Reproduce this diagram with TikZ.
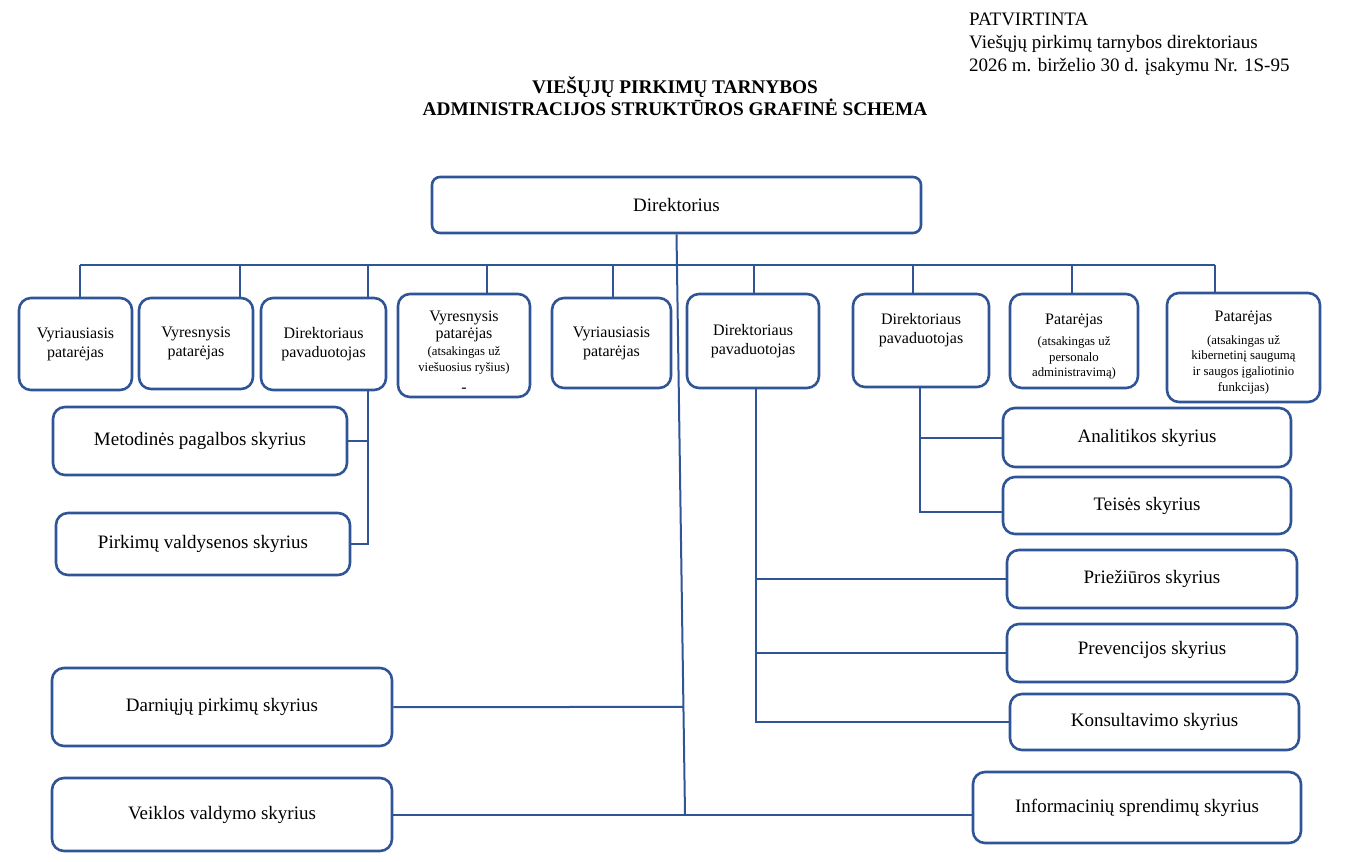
\documentclass[tikz,border=0pt]{standalone}
\usepackage{fontspec}
\setmainfont{Liberation Serif}
\usetikzlibrary{calc}

\definecolor{schemablau}{RGB}{47,85,151}
\newcommand{\gross}{\fontsize{16}{19}\selectfont}
\newcommand{\klein}{\fontsize{12.8}{15}\selectfont}
\newcommand{\haupt}{\fontsize{19}{22.5}\selectfont}

\tikzset{
  kasten/.style={draw=schemablau, line width=2.6pt, rounded corners=12pt, inner sep=2pt},
  posten/.style={kasten, align=center, font=\gross},
  oben/.style={align=center, font=\gross},
  skyrius/.style={kasten, font=\haupt},
  linija/.style={draw=schemablau, line width=2pt},
}

\begin{document}
\begin{tikzpicture}[x=1pt,y=-1pt]
    \useasboundingbox (0,0) rectangle (1347,862);
    % Header
    \node[anchor=north west, align=left, inner sep=0pt, font=\fontsize{19}{22.8}\selectfont] (patv) at (969,13)
        {PATVIRTINTA\\Viešųjų pirkimų tarnybos direktoriaus\\2026 m. birželio 30 d. įsakymu Nr. 1S-95};
    \node[align=center, inner sep=0pt, font=\fontsize{19.3}{22}\selectfont\bfseries] (titel) at (675,96.5)
        {VIEŠŲJŲ PIRKIMŲ TARNYBOS\\ADMINISTRACIJOS STRUKTŪROS GRAFINĖ SCHEMA};
    % Director
    \node[kasten, font=\haupt, rounded corners=8pt, minimum width=489, minimum height=56] (dir) at (676.5,205) {Direktorius};
    % Row of advisers and deputies
    \node[posten, minimum width=113, minimum height=92] (p1) at (75.5,344) {Vyriausiasis\\patarėjas};
    \node[posten, minimum width=114, minimum height=91] (p2) at (196,343.5) {Vyresnysis\\patarėjas};
    \node[posten, minimum width=125, minimum height=92] (pav1) at (323.5,344) {Direktoriaus\\pavaduotojas};
    \node[kasten, minimum width=132, minimum height=103,
          label={[oben, below=15pt]north:{Vyresnysis\\[-2pt]patarėjas\\[-2pt]\klein (atsakingas už\\[-3pt]\klein viešuosius ryšius)\\[2pt]-}}] (p3) at (464,345.5) {};
    \node[posten, minimum width=119, minimum height=90] (p4) at (611.5,343) {Vyriausiasis\\patarėjas};
    \node[posten, minimum width=132, minimum height=94] (pav2) at (753,341) {Direktoriaus\\pavaduotojas};
    \node[kasten, minimum width=136, minimum height=93,
          label={[oben, below=17pt]north:{Direktoriaus\\pavaduotojas}}] (pav3) at (921,340.5) {};
    \node[kasten, minimum width=128, minimum height=94,
          label={[oben, below=18pt]north:{Patarėjas\\[2pt]\klein (atsakingas už\\[-3pt]\klein personalo\\[-4pt]\klein administravimą)}}] (pat1) at (1074,341) {};
    \node[kasten, minimum width=153, minimum height=109,
          label={[oben, below=16pt]north:{Patarėjas\\[4pt]\klein (atsakingas už\\[-4pt]\klein kibernetinį saugumą\\[-3pt]\klein ir saugos įgaliotinio\\[-3pt]\klein funkcijas)}}] (pat2) at (1243.5,347.5) {};
    % Divisions
    \node[skyrius, minimum width=294, minimum height=68] (met) at (200,441) {Metodinės pagalbos skyrius};
    \node[skyrius, minimum width=294, minimum height=62] (pvs) at (203,544) {Pirkimų valdysenos skyrius};
    \node[skyrius, minimum width=340, minimum height=78] (dar) at (222,707) {Darniųjų pirkimų skyrius};
    \node[skyrius, minimum width=340, minimum height=73] (veik) at (222,814.5) {Veiklos valdymo skyrius};
    \node[skyrius, minimum width=288, minimum height=59] (anal) at (1147,437.5) {Analitikos skyrius};
    \node[skyrius, minimum width=288, minimum height=57] (teis) at (1147,505.5) {Teisės skyrius};
    \node[skyrius, minimum width=290, minimum height=58] (pri) at (1152,579) {Priežiūros skyrius};
    \node[skyrius, minimum width=290, minimum height=58, text depth=11pt] (prev) at (1152,653) {Prevencijos skyrius};
    \node[skyrius, minimum width=289, minimum height=56] (kons) at (1154.5,722) {Konsultavimo skyrius};
    \node[skyrius, minimum width=328, minimum height=71] (info) at (1137,807.5) {Informacinių sprendimų skyrius};

    % Bus and drops
    \coordinate (busL) at (80,265);
    \coordinate (busR) at (1215,265);
    \coordinate (stamm) at (685,814.5);
    \draw[linija] (busL) -- (busR);
    \draw[linija] (dir.south) -- (stamm);
    \foreach \n/\dx in {p1/4.5, p2/44, pav1/44.5, p3/23, p4/1.5, pav2/1, pav3/-8, pat1/-2, pat2/-28.5}
        \draw[linija] ([xshift=\dx pt]\n.north) -- ([xshift=\dx pt]\n.north |- busL);
    % Divisions under the director
    \draw[linija] (dar.east) -- (intersection of dir.south--stamm and dar.east--dar.west);
    \draw[linija] (veik.east) -- (veik.east -| info.west);
    % First deputy
    \coordinate (a1) at ([xshift=44.5pt]pav1.south);
    \draw[linija] (a1) |- (pvs.east);
    \draw[linija] (met.east) -- (met.east -| a1);
    % Second deputy
    \coordinate (a2) at ([xshift=3pt]pav2.south);
    \draw[linija] (a2) |- (kons.west);
    \draw[linija] (pri.west) -- (pri.west -| a2);
    \draw[linija] (prev.west) -- (prev.west -| a2);
    % Third deputy
    \coordinate (a3) at ([xshift=-1pt]pav3.south);
    \draw[linija] (a3) |- ([yshift=-6pt]teis.west);
    \draw[linija] (anal.west) -- (anal.west -| a3);
\end{tikzpicture}
\end{document}
